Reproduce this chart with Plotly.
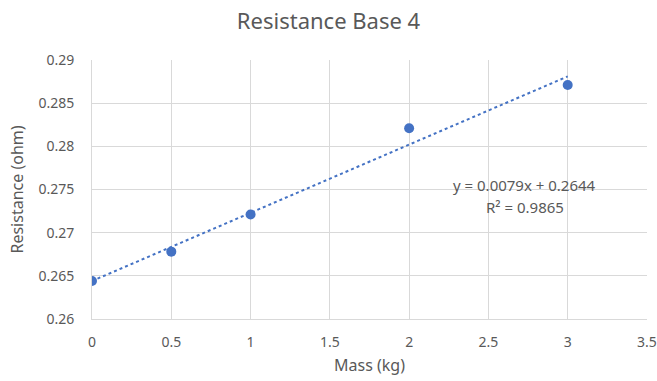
import numpy as np
import plotly.graph_objects as go

mass = [0, 0.5, 1, 2, 3]
resistance = [0.2644, 0.2678, 0.2721, 0.2821, 0.2871]
x_ticks = [0, 0.5, 1, 1.5, 2, 2.5, 3, 3.5]
y_ticks = [0.26, 0.265, 0.27, 0.275, 0.28, 0.285, 0.29]
eq_text = "y = 0.0079x + 0.2644"
r2_text = "R² = 0.9865"

slope, intercept = 0.0079, 0.2644
trend_x = [min(mass), max(mass)]
trend_y = [slope * v + intercept for v in trend_x]

blue = "#4472C4"
grey = "#595959"
grid = "#D9D9D9"
font = "Noto Sans"

fig = go.Figure()
fig.add_trace(go.Scatter(x=trend_x, y=trend_y, mode="lines",
                         line=dict(color=blue, width=2, dash="dot"),
                         hoverinfo="skip", showlegend=False))
fig.add_trace(go.Scatter(x=mass, y=resistance, mode="markers",
                         marker=dict(color=blue, size=10),
                         showlegend=False))

fig.add_annotation(x=2.73, y=0.2755, xref="x", yref="y", text=eq_text,
                   showarrow=False, font=dict(family=font, size=15, color=grey))
fig.add_annotation(x=2.73, y=0.2730, xref="x", yref="y", text=r2_text,
                   showarrow=False, font=dict(family=font, size=15, color=grey))

fig.update_layout(
    width=657, height=381,
    margin=dict(l=92, r=10, t=60, b=62, autoexpand=False),
    paper_bgcolor="white", plot_bgcolor="white",
    title=dict(text="Resistance Base 4", x=0.5, xanchor="center", y=0.945, yanchor="middle",
               font=dict(family=font, size=22, color=grey)),
    font=dict(family=font, color=grey),
    xaxis=dict(range=[0, 3.5], tickvals=x_ticks, ticktext=[f"{v:g}" for v in x_ticks],
               showgrid=True, gridcolor=grid, gridwidth=1, automargin=False,
               showline=True, linecolor=grid, linewidth=1, zeroline=False,
               ticks="", ticklabelstandoff=10,
               tickfont=dict(family=font, size=14, color=grey),
               title=dict(text="Mass (kg)", font=dict(family=font, size=16, color=grey), standoff=10)),
    yaxis=dict(range=[0.26, 0.29], tickvals=y_ticks, ticktext=[f"{v:g}" for v in y_ticks],
               showgrid=True, gridcolor=grid, gridwidth=1, automargin=False,
               showline=True, linecolor=grid, linewidth=1, zeroline=False,
               ticks="", ticklabelstandoff=14,
               tickfont=dict(family=font, size=14, color=grey),
               title=dict(text="Resistance (ohm)", font=dict(family=font, size=16, color=grey), standoff=10)),
)

fig.write_html("out.html")
